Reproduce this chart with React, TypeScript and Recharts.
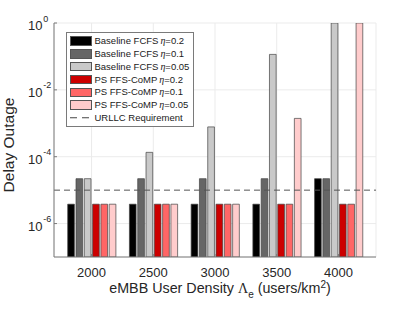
import React from 'react';
import {
  BarChart,
  Bar,
  XAxis,
  YAxis,
  CartesianGrid,
  ReferenceLine,
  Legend,
} from 'recharts';

// ---------- data ----------
const categories = ['2000', '2500', '3000', '3500', '4000'];
const baselineEta02 = [3.8e-6, 3.8e-6, 3.8e-6, 3.8e-6, 2.2e-5];
const baselineEta01 = [2.2e-5, 2.2e-5, 2.2e-5, 2.2e-5, 2.2e-5];
const baselineEta005 = [2.2e-5, 1.35e-4, 7.8e-4, 0.115, 1];
const psEta02 = [3.8e-6, 3.8e-6, 3.8e-6, 3.8e-6, 3.8e-6];
const psEta01 = [3.8e-6, 3.8e-6, 3.8e-6, 3.8e-6, 3.8e-6];
const psEta005 = [3.8e-6, 3.8e-6, 3.8e-6, 1.4e-3, 1];
const urllcRequirement = 1e-5;
const yTicks = [1e-6, 1e-4, 1e-2, 1];
const yDomain = [1e-7, 1];

const seriesDefs = [
  { key: 'b02', prefix: 'Baseline FCFS', eta: '0.2', values: baselineEta02, color: '#000000' },
  { key: 'b01', prefix: 'Baseline FCFS', eta: '0.1', values: baselineEta01, color: '#666666' },
  { key: 'b005', prefix: 'Baseline FCFS', eta: '0.05', values: baselineEta005, color: '#c9c9c9' },
  { key: 'p02', prefix: 'PS FFS-CoMP', eta: '0.2', values: psEta02, color: '#cc0000' },
  { key: 'p01', prefix: 'PS FFS-CoMP', eta: '0.1', values: psEta01, color: '#ff6666' },
  { key: 'p005', prefix: 'PS FFS-CoMP', eta: '0.05', values: psEta005, color: '#ffcccc' },
];

const data = categories.map((cat, i) => {
  const row: Record<string, any> = { cat };
  seriesDefs.forEach((s) => {
    row[s.key] = s.values[i];
  });
  return row;
});

// ---------- styles ----------
const SANS = '"Liberation Sans", Arial, Helvetica, sans-serif';
const SERIF = '"Liberation Serif", "Times New Roman", serif';
const TEXT = '#262626';
const AXIS = '#7a7a7a';
const TICK_LEN = 3;

const YTickLeft = (props: any) => {
  const { x, y, payload } = props;
  const exp = Math.round(Math.log10(payload.value));
  return (
    <g>
      <line x1={x} x2={x + TICK_LEN} y1={y} y2={y} stroke={AXIS} strokeWidth={1} />
      <text x={x - 11.5} y={y + 7} textAnchor="end" fontSize={13} fontFamily={SANS} fill={TEXT}>
        10
      </text>
      <text x={x - 10.8} y={y - 1.5} textAnchor="start" fontSize={9} fontFamily={SANS} fill={TEXT}>
        {String(exp)}
      </text>
    </g>
  );
};

const YTickRight = (props: any) => {
  const { x, y } = props;
  return <line x1={x} x2={x - TICK_LEN} y1={y} y2={y} stroke={AXIS} strokeWidth={1} />;
};

const XTickBottom = (props: any) => {
  const { x, y, payload } = props;
  return (
    <g>
      <line x1={x} x2={x} y1={y} y2={y - TICK_LEN} stroke={AXIS} strokeWidth={1} />
      <text x={x} y={y + 19.5} textAnchor="middle" fontSize={13} fontFamily={SANS} fill={TEXT}>
        {payload.value}
      </text>
    </g>
  );
};

const XTickTop = (props: any) => {
  const { x, y } = props;
  return <line x1={x} x2={x} y1={y} y2={y + TICK_LEN} stroke={AXIS} strokeWidth={1} />;
};

const LegendBox = () => {
  const rowStyle: React.CSSProperties = {
    height: 12.85,
    display: 'flex',
    alignItems: 'center',
    whiteSpace: 'nowrap',
  };
  const textStyle: React.CSSProperties = {
    marginLeft: 3,
    fontSize: 9.5,
    fontFamily: SANS,
    color: '#1a1a1a',
    lineHeight: '12px',
  };
  return (
    <div
      style={{
        width: 128,
        height: 94.5,
        boxSizing: 'border-box',
        border: '1px solid #7a7a7a',
        background: '#ffffff',
        paddingTop: 1.6,
      }}
    >
      {seriesDefs.map((s) => (
        <div key={s.key} style={rowStyle}>
          <div
            style={{
              marginLeft: 2.5,
              width: 22,
              height: 9.5,
              boxSizing: 'border-box',
              border: '1px solid #555',
              background: s.color,
            }}
          />
          <span style={textStyle}>
            {s.prefix}
            <span style={{ fontFamily: SERIF, fontStyle: 'italic', fontSize: 10, marginLeft: 2 }}>η</span>
            {'=' + s.eta}
          </span>
        </div>
      ))}
      <div style={rowStyle}>
        <svg width={22} height={9.5} style={{ marginLeft: 2.5 }}>
          <line x1={0} x2={22} y1={4.75} y2={4.75} stroke="#444" strokeWidth={1} strokeDasharray="7 5" />
        </svg>
        <span style={textStyle}>URLLC Requirement</span>
      </div>
    </div>
  );
};

export default function App() {
  return (
    <div style={{ position: 'absolute', left: 0, top: 0, width: 415, height: 312, background: '#fff' }}>
      <BarChart
        width={415}
        height={312}
        data={data}
        margin={{ top: 23, right: 39, bottom: 25, left: 8 }}
        barSize={6.7}
        barGap={1.6}
      >
        <CartesianGrid stroke="#ebebeb" strokeWidth={1} />
        <XAxis
          dataKey="cat"
          height={30}
          padding={{ left: 6.7, right: 6.7 }}
          axisLine={{ stroke: AXIS, strokeWidth: 1 }}
          tickLine={false}
          tickSize={0}
          tickMargin={0}
          tick={<XTickBottom />}
          interval={0}
          label={{
            content: () => (
              <text x={220} y={293} textAnchor="middle" fontSize={14.3} fontFamily={SANS} fill={TEXT}>
                {'eMBB User Density '}
                <tspan fontFamily={SERIF} fontSize={14}>Λ</tspan>
                <tspan fontSize={10} dy={4.5}>e</tspan>
                <tspan dy={-4.5}>{' (users/km'}</tspan>
                <tspan fontSize={10} dy={-5.5}>2</tspan>
                <tspan dy={5.5}>)</tspan>
              </text>
            ),
          }}
        />
        <XAxis
          xAxisId="top"
          dataKey="cat"
          orientation="top"
          height={0}
          padding={{ left: 6.7, right: 6.7 }}
          axisLine={{ stroke: AXIS, strokeWidth: 1 }}
          tickLine={false}
          tickSize={0}
          tickMargin={0}
          tick={<XTickTop />}
          interval={0}
        />
        <YAxis
          scale="log"
          domain={yDomain}
          ticks={yTicks}
          allowDataOverflow
          width={46}
          axisLine={{ stroke: AXIS, strokeWidth: 1 }}
          tickLine={false}
          tickSize={0}
          tickMargin={0}
          tick={<YTickLeft />}
          interval={0}
          label={{
            content: () => (
              <text
                x={13.5}
                y={145}
                transform="rotate(-90 13.5 145)"
                textAnchor="middle"
                fontSize={15.5}
                fontFamily={SANS}
                fill={TEXT}
              >
                Delay Outage
              </text>
            ),
          }}
        />
        <YAxis
          yAxisId="right"
          orientation="right"
          scale="log"
          domain={yDomain}
          ticks={yTicks}
          allowDataOverflow
          width={0}
          axisLine={{ stroke: AXIS, strokeWidth: 1 }}
          tickLine={false}
          tickSize={0}
          tickMargin={0}
          tick={<YTickRight />}
          interval={0}
        />
        {seriesDefs.map((s) => (
          <Bar
            key={s.key}
            dataKey={s.key}
            name={`${s.prefix} η=${s.eta}`}
            fill={s.color}
            stroke="#444"
            strokeWidth={0.7}
            isAnimationActive={false}
          />
        ))}
        <ReferenceLine
          y={urllcRequirement}
          stroke="#555"
          strokeWidth={1}
          strokeDasharray="6 4"
          ifOverflow="extendDomain"
        />
        <Legend
          layout="vertical"
          align="center"
          verticalAlign="middle"
          wrapperStyle={{ left: 66, top: 32, width: 128, height: 95 }}
          content={() => <LegendBox />}
        />
      </BarChart>
    </div>
  );
}
